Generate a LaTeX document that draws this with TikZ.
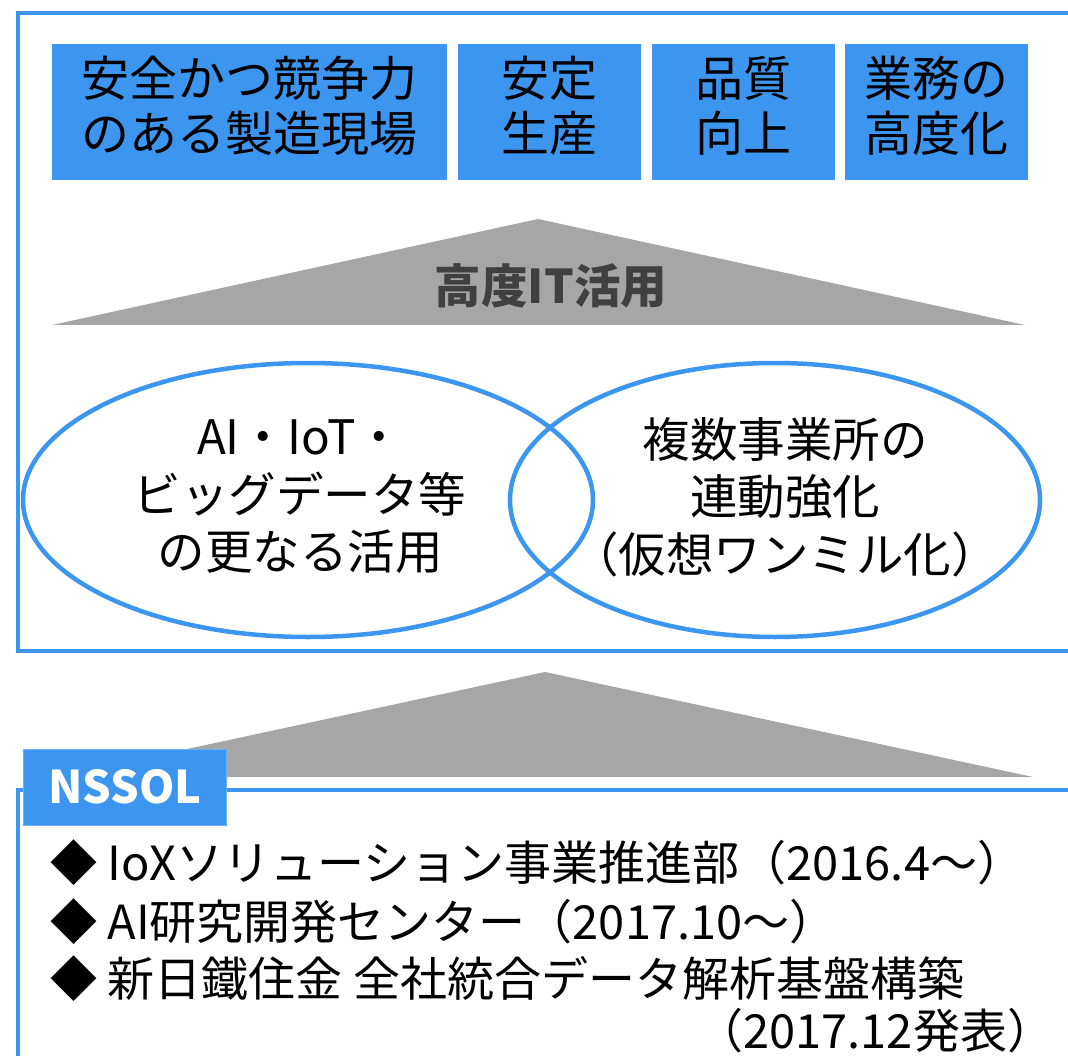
\documentclass[tikz,border=0pt]{standalone}
\usepackage{fontspec}
\setmainfont{Noto Sans CJK JP}
\usetikzlibrary{shapes.geometric}
\definecolor{nsblue}{RGB}{60,150,240}
\definecolor{trigray}{RGB}{166,166,166}
\definecolor{txtgray}{RGB}{64,64,64}
\begin{document}
\begin{tikzpicture}[x=1pt,y=-1pt,
  every node/.style={inner sep=0pt,outer sep=0pt},
  goalbox/.style={fill=nsblue,anchor=north west,minimum height=136pt},
  goaltext/.style={text=black,align=center,font=\fontsize{48}{55}\selectfont},
  frameline/.style={draw=nsblue,line width=4.5pt},
  ringshape/.style={draw=nsblue,line width=4.5pt,ellipse},
  ringtext/.style={align=center,font=\fontsize{47.5}{57.5}\selectfont},
  bulletline/.style={anchor=base west,font=\fontsize{47}{56}\selectfont},
  basetri/.style={fill=trigray}]
\useasboundingbox (0,0) rectangle (1068,1056);
\clip (0,0) rectangle (1068,1056);
% top frame
\coordinate (tf1) at (1075,13);
\coordinate (tf2) at (18,13);
\coordinate (tf3) at (18,651);
\coordinate (tf4) at (1075,651);
\draw[frameline] (tf1) -- (tf2) -- (tf3) -- (tf4);
% goal boxes
\node[goalbox,minimum width=395pt] (g1) at (52,44) {};
\node[goalbox,minimum width=183pt] (g2) at (458,44) {};
\node[goalbox,minimum width=183pt] (g3) at (652,44) {};
\node[goalbox,minimum width=183pt] (g4) at (845,44) {};
\node[goaltext] (g1t) at (249,106) {安全かつ競争力\\のある製造現場};
\node[goaltext] (g2t) at (549,106) {安定\\生産};
\node[goaltext] (g3t) at (743,106) {品質\\向上};
\node[goaltext] (g4t) at (936,106) {業務の\\高度化};
% triangle 1
\coordinate (t1l) at (52,325);
\coordinate (t1a) at (538,219);
\coordinate (t1r) at (1025,325);
\fill[basetri] (t1l) -- (t1a) -- (t1r) -- cycle;
\node[text=txtgray,font=\fontsize{46.5}{50}\selectfont\bfseries] (itlabel) at (551,286) {高度IT活用};
% ellipses
\node[ringshape,minimum width=570pt,minimum height=274pt] (leftring) at (308,500) {};
\node[ringshape,minimum width=530pt,minimum height=274pt] (rightring) at (775,500) {};
\node[ringtext] (lefttext) at (300,497) {AI・IoT・\\ビッグデータ等\\の更なる活用};
\node[ringtext] (righttext) at (785,497) {複数事業所の\\連動強化\\（仮想ワンミル化）};
% triangle 2
\coordinate (t2l) at (57,777);
\coordinate (t2a) at (545,672);
\coordinate (t2r) at (1033,777);
\fill[basetri] (t2l) -- (t2a) -- (t2r) -- cycle;
% bottom frame
\coordinate (bf1) at (1075,790);
\coordinate (bf2) at (18,790);
\coordinate (bf3) at (18,1070);
\draw[frameline] (bf1) -- (bf2) -- (bf3);
% NSSOL label
\node[fill=nsblue,draw=nsblue!75!white,line width=1pt,minimum width=203pt,minimum height=76pt,
  text=white,font=\fontsize{45}{50}\selectfont\bfseries] (nssol) at (125,787) {NSSOL};
% bullet lines
\node[bulletline] (b1) at (50,880) {◆ IoXソリューション事業推進部（2016.4～）};
\node[bulletline] (b2) at (50,939) {◆ AI研究開発センター（2017.10～）};
\node[bulletline] (b3) at (50,996) {◆ 新日鐵住金 全社統合データ解析基盤構築};
\node[font=\fontsize{47}{56}\selectfont,anchor=base east] (b4) at (1054,1048) {（2017.12発表）};
\end{tikzpicture}
\end{document}
